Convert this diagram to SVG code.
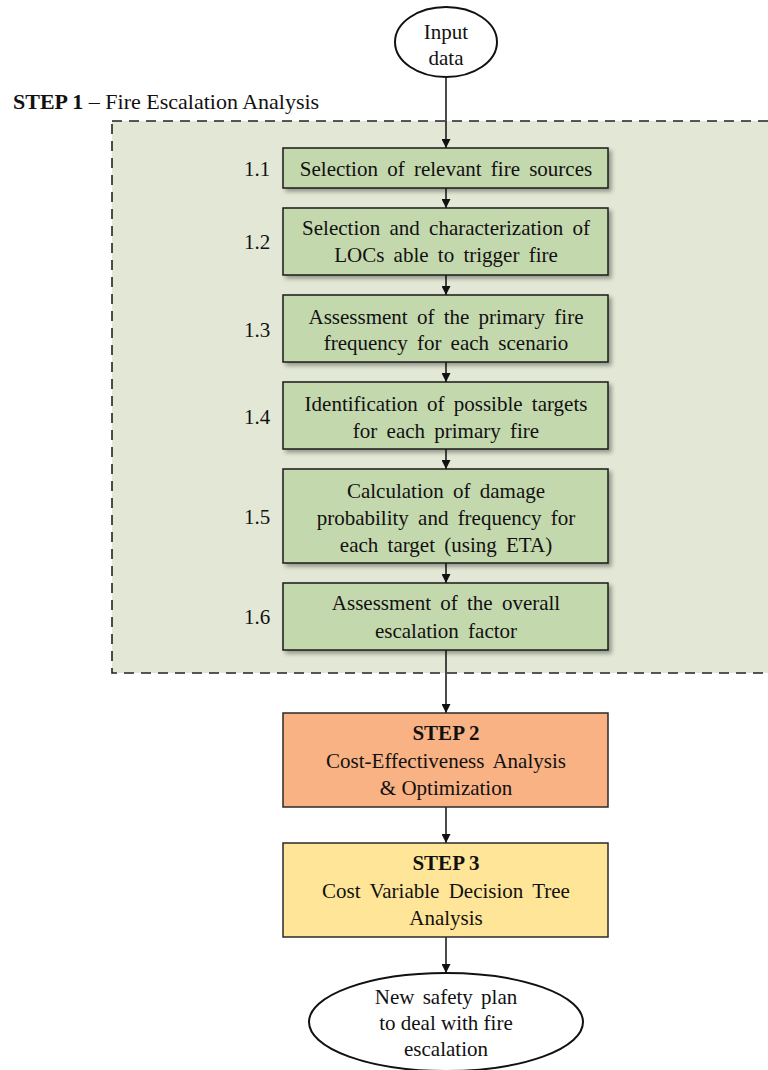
<svg xmlns="http://www.w3.org/2000/svg" width="768" height="1070" viewBox="0 0 768 1070">
  <defs>
    <marker id="arrow" viewBox="0 0 10 10" refX="10" refY="5" markerWidth="9" markerHeight="9" markerUnits="userSpaceOnUse" orient="auto">
      <path d="M0,0 L10,5 L0,10 Z" fill="#111"/>
    </marker>
    <filter id="shadow" x="-5%" y="-10%" width="115%" height="130%">
      <feGaussianBlur in="SourceAlpha" stdDeviation="2"/>
      <feOffset dx="3" dy="3" result="b"/>
      <feComponentTransfer><feFuncA type="linear" slope="0.35"/></feComponentTransfer>
      <feMerge><feMergeNode/><feMergeNode in="SourceGraphic"/></feMerge>
    </filter>
    <style>
      text { font-family: "Liberation Serif", "Times New Roman", serif; font-size: 21px; fill: #111; }
      .c { text-anchor: middle; }
      .b { font-weight: bold; }
      .w { word-spacing: 4px; }
      .hdr { font-size: 22px; }
      .sub { fill: #c4d8ae; stroke: #1a1a1a; stroke-width: 1.5; }
      .step2 { fill: #f9b283; stroke: #2a2a2a; stroke-width: 1.5; }
      .step3 { fill: #ffe597; stroke: #2a2a2a; stroke-width: 1.5; }
      .term { fill: #fff; stroke: #111; stroke-width: 2; }
      .conn { stroke: #111; stroke-width: 1.5; fill: none; marker-end: url(#arrow); }
    </style>
  </defs>

  <rect width="768" height="1070" fill="#fff"/>

  <!-- Step 1 container -->
  <g id="step1-area">
    <rect x="112" y="121" width="670" height="552" fill="#e2e8d5" stroke="#222" stroke-width="1.6" stroke-dasharray="10 7"/>
    <text class="hdr" x="13" y="109"><tspan class="b">STEP 1</tspan> – Fire Escalation Analysis</text>
  </g>

  <!-- Connectors -->
  <g id="connectors">
    <line class="conn" x1="446" y1="77" x2="446" y2="148"/>
    <line class="conn" x1="446" y1="188" x2="446" y2="208"/>
    <line class="conn" x1="446" y1="275" x2="446" y2="295"/>
    <line class="conn" x1="446" y1="362" x2="446" y2="382"/>
    <line class="conn" x1="446" y1="449" x2="446" y2="469"/>
    <line class="conn" x1="446" y1="563" x2="446" y2="583"/>
    <line class="conn" x1="446" y1="650" x2="446" y2="713"/>
    <line class="conn" x1="446" y1="807" x2="446" y2="843"/>
    <line class="conn" x1="446" y1="937" x2="446" y2="973"/>
  </g>

  <g id="input">
    <ellipse class="term" cx="446" cy="42" rx="51" ry="35"/>
    <text class="c" x="446" y="39">Input</text>
    <text class="c" x="446" y="65">data</text>
  </g>

  <g id="s1-1">
    <rect class="sub" x="283" y="148" width="325" height="40" filter="url(#shadow)"/>
    <text class="c" x="257" y="176">1.1</text>
    <text class="c w" x="446" y="176">Selection of relevant fire sources</text>
  </g>

  <g id="s1-2">
    <rect class="sub" x="283" y="208" width="325" height="67" filter="url(#shadow)"/>
    <text class="c" x="257" y="249">1.2</text>
    <text class="c w" x="446" y="235">Selection and characterization of</text>
    <text class="c w" x="446" y="262">LOCs able to trigger fire</text>
  </g>

  <g id="s1-3">
    <rect class="sub" x="283" y="295" width="325" height="67" filter="url(#shadow)"/>
    <text class="c" x="257" y="337">1.3</text>
    <text class="c w" x="446" y="324">Assessment of the primary fire</text>
    <text class="c w" x="446" y="350">frequency for each scenario</text>
  </g>

  <g id="s1-4">
    <rect class="sub" x="283" y="382" width="325" height="67" filter="url(#shadow)"/>
    <text class="c" x="257" y="424">1.4</text>
    <text class="c w" x="446" y="411">Identification of possible targets</text>
    <text class="c w" x="446" y="438">for each primary fire</text>
  </g>

  <g id="s1-5">
    <rect class="sub" x="283" y="469" width="325" height="94" filter="url(#shadow)"/>
    <text class="c" x="257" y="524">1.5</text>
    <text class="c w" x="446" y="498">Calculation of damage</text>
    <text class="c w" x="446" y="525">probability and frequency for</text>
    <text class="c w" x="446" y="552">each target (using ETA)</text>
  </g>

  <g id="s1-6">
    <rect class="sub" x="283" y="583" width="325" height="67" filter="url(#shadow)"/>
    <text class="c" x="257" y="624">1.6</text>
    <text class="c w" x="446" y="610">Assessment of the overall</text>
    <text class="c w" x="446" y="638">escalation factor</text>
  </g>

  <g id="step2">
    <rect class="step2" x="283" y="713" width="325" height="94"/>
    <text class="c b" x="446" y="740">STEP 2</text>
    <text class="c w" x="446" y="768">Cost-Effectiveness Analysis</text>
    <text class="c" x="446" y="795">&amp; Optimization</text>
  </g>

  <g id="step3">
    <rect class="step3" x="283" y="843" width="325" height="94"/>
    <text class="c b" x="446" y="870">STEP 3</text>
    <text class="c w" x="446" y="898">Cost Variable Decision Tree</text>
    <text class="c" x="446" y="925">Analysis</text>
  </g>

  <g id="output">
    <ellipse class="term" cx="446" cy="1022" rx="137" ry="49"/>
    <text class="c" x="446" y="1004" word-spacing="3">New safety plan</text>
    <text class="c" x="446" y="1030">to deal with fire</text>
    <text class="c" x="446" y="1056">escalation</text>
  </g>
</svg>
